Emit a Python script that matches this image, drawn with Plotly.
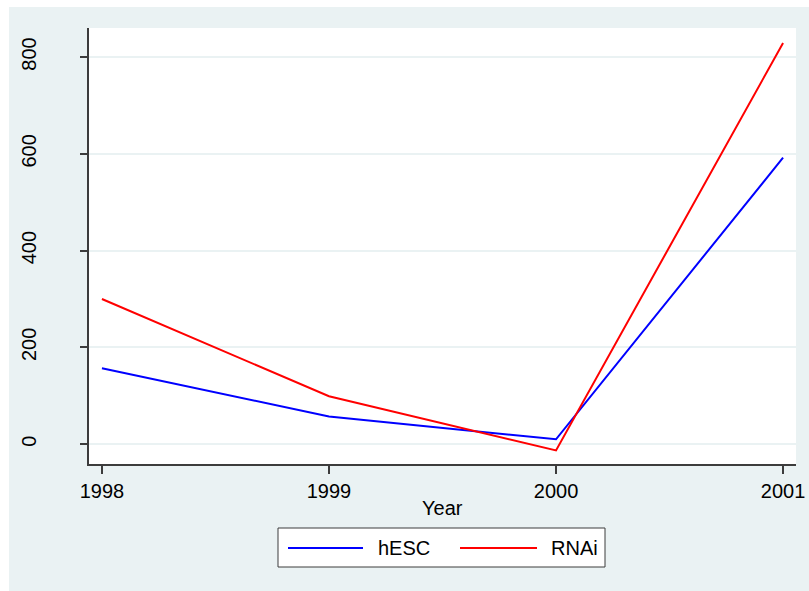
import plotly.graph_objects as go

years = [1998, 1999, 2000, 2001]
hesc = [157, 57, 10, 592]
rnai = [300, 99, -13, 829]
series_names = ["hESC", "RNAi"]
series_colors = ["#0000FF", "#FF0000"]
y_ticks = [0, 200, 400, 600, 800]
x_title = "Year"

BG = "#EAF2F3"
AX = "#3C3C3C"
FONT = "Liberation Sans, Arial, sans-serif"
FS = 20

fig = go.Figure()
for name, vals, col in zip(series_names, [hesc, rnai], series_colors):
    fig.add_trace(go.Scatter(x=years, y=vals, mode="lines", name=name,
                             line=dict(color=col, width=2), showlegend=False))

# plot area px: left 89, right 796, top 28, bottom 464 in 809x591
L, R, T, B = 89, 796, 28, 464
W, H = R - L, B - T
def px(x): return (x - L) / W
def py(y): return (B - y) / H

shapes = [
    # white outer strips (left and top)
    dict(type="rect", xref="paper", yref="paper", x0=px(-5), x1=px(9), y0=py(600), y1=py(-5),
         fillcolor="white", line=dict(width=0), layer="below"),
    dict(type="rect", xref="paper", yref="paper", x0=px(-5), x1=px(815), y0=py(7), y1=py(-5),
         fillcolor="white", line=dict(width=0), layer="below"),
    # legend box
    dict(type="rect", xref="paper", yref="paper", x0=px(278), x1=px(605), y0=py(567), y1=py(528),
         fillcolor="white", line=dict(color=AX, width=1)),
]
annotations = [
    dict(text=x_title, xref="paper", yref="paper", x=0.5, y=py(508), showarrow=False,
         font=dict(size=FS, color="black", family=FONT), xanchor="center", yanchor="middle"),
]
leg_lines = [(288, 363, 376), (460, 537, 549)]
for (x0, x1, xt), name, col in zip(leg_lines, series_names, series_colors):
    shapes.append(dict(type="line", xref="paper", yref="paper", x0=px(x0), x1=px(x1),
                       y0=py(548), y1=py(548), line=dict(color=col, width=2)))
    annotations.append(dict(text=name, xref="paper", yref="paper", x=px(xt), y=py(548),
                            showarrow=False, xanchor="left", yanchor="middle",
                            font=dict(size=FS, color="black", family=FONT)))

fig.update_layout(
    width=809, height=591,
    margin=dict(l=L, r=809 - R, t=T, b=591 - B, pad=0, autoexpand=False),
    paper_bgcolor=BG, plot_bgcolor="white",
    font=dict(family=FONT, size=FS, color="black"),
    shapes=shapes, annotations=annotations,
    xaxis=dict(range=[1997.943, 2001.057], tickvals=years, ticktext=[str(y) for y in years],
               automargin=False,
               showgrid=False, zeroline=False, showline=True, linecolor=AX, linewidth=1.5,
               ticks="outside", ticklen=8, tickcolor=AX, tickwidth=1.5,
               tickfont=dict(size=FS, family=FONT, color="black")),
    yaxis=dict(range=[-41, 860], tickvals=y_ticks, ticktext=[str(v) for v in y_ticks],
               automargin=False,
               showgrid=True, gridcolor=BG, gridwidth=2, zeroline=False,
               showline=True, linecolor=AX, linewidth=1.5,
               ticks="outside", ticklen=7, tickcolor=AX, tickwidth=1.5, tickangle=-90,
               ticklabelstandoff=36,
               tickfont=dict(size=FS, family=FONT, color="black")),
)

fig.write_html("out.html", config={"displayModeBar": False},
               post_script="document.body.style.margin='0px';document.body.style.overflow='hidden';")
